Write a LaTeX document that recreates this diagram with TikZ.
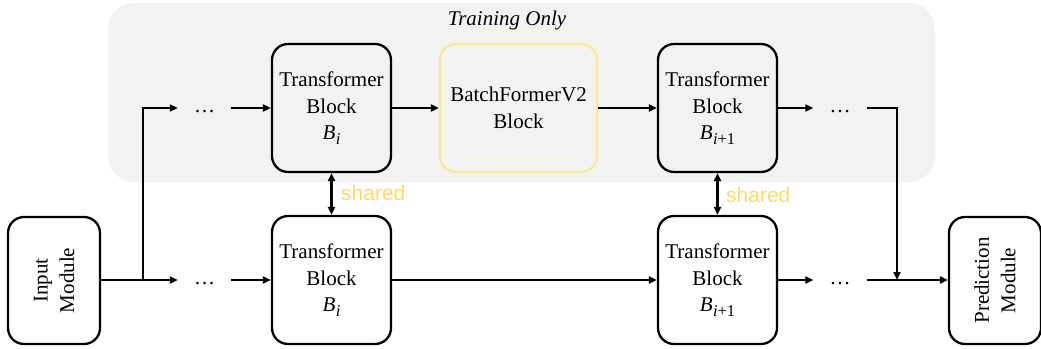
\documentclass[tikz,border=0pt]{standalone}
\usepackage{fontspec}
\setmainfont{Liberation Serif}
\newfontfamily\labelsans{Liberation Sans}
\usetikzlibrary{arrows.meta}

\definecolor{panelgray}{HTML}{F2F2F2}
\definecolor{sharedyellow}{HTML}{FFD966}
\definecolor{bfborder}{HTML}{FFE699}

% block symbol B with a subscript index (italic letters, upright digits)
\newcommand{\blocksym}[1]{\textit{B}\kern0.5pt\raisebox{-4.5pt}{\fontsize{16.5}{16.5}\selectfont #1}}

\begin{document}
\begin{tikzpicture}[x=1pt,y=-1pt,
  font=\fontsize{21}{26.5}\selectfont,
  block/.style={draw=black, line width=2.3pt, rounded corners=16pt,
    minimum width=119pt, minimum height=128pt, inner sep=0pt, align=center},
  sidebox/.style={draw=black, line width=2.3pt, rounded corners=16pt,
    rotate=90, minimum width=127pt, minimum height=92pt, inner sep=0pt, align=center},
  gap/.style={minimum width=53pt, minimum height=20pt, inner sep=0pt,
    text height=9pt, text depth=0pt},
  flow/.style={line width=2.3pt, -{Triangle[length=8pt,width=7pt]}},
  link/.style={line width=2.3pt, {Triangle[length=8pt,width=7pt]}-{Triangle[length=8pt,width=7pt]}},
  sharedlbl/.style={text=sharedyellow, font=\labelsans\fontsize{21}{24}\selectfont, anchor=west, inner sep=0pt}
]
\useasboundingbox (0,0) rectangle (1041,348);

% training-only panel
\fill[panelgray, rounded corners=26pt] (108,3) rectangle (935,182);
\node (title) at (507,20) {\itshape Training Only};

% upper (training) path
\node[block] (tbi) at (331.5,108) {Transformer\\Block\\\blocksym{\textit{i}}};
\node[block, draw=bfborder, minimum width=157pt] (bf) at (518.5,108) {BatchFormerV2\\Block};
\node[block] (tbj) at (717.5,108) {Transformer\\Block\\\blocksym{\textit{i}+1}};
\node[gap] (d1t) at (204.5,108) {\ldots};
\node[gap] (d2t) at (840,108) {\ldots};

% lower (shared) path
\node[block] (tbib) at (331.5,280) {Transformer\\Block\\\blocksym{\textit{i}}};
\node[block] (tbjb) at (717.5,280) {Transformer\\Block\\\blocksym{\textit{i}+1}};
\node[gap] (d1b) at (204.5,280) {\ldots};
\node[gap] (d2b) at (840,280) {\ldots};

% input and prediction modules
\node[sidebox] (inp) at (54,280.5) {Input\\Module};
\node[sidebox] (pred) at (995,280.5) {Prediction\\Module};

% branch and merge points
\coordinate (split) at (143,280);
\coordinate (merge) at (897,280);

% connectors
\draw[line width=2.3pt] (inp.south|-split) -- (split);
\draw[flow] (split) -- (d1b.west);
\draw[flow] (split) |- (d1t.west);
\draw[flow] (d1t.east) -- (tbi.west);
\draw[flow] (d1b.east) -- (tbib.west);
\draw[flow] (tbi.east) -- (bf.west);
\draw[flow] (bf.east) -- (tbj.west);
\draw[flow] (tbib.east) -- (tbjb.west);
\draw[flow] (tbj.east) -- (d2t.west);
\draw[flow] (tbjb.east) -- (d2b.west);
\draw[flow] (d2t.east) -| (merge);
\draw[flow] (d2b.east) -- (pred.north|-merge);

% weight sharing between the two paths
\draw[link] (tbi.south) -- (tbib.north);
\draw[link] (tbj.south) -- (tbjb.north);
\node[sharedlbl] (sh1) at (341,193) {shared};
\node[sharedlbl] (sh2) at (726,195) {shared};
\end{tikzpicture}
\end{document}
